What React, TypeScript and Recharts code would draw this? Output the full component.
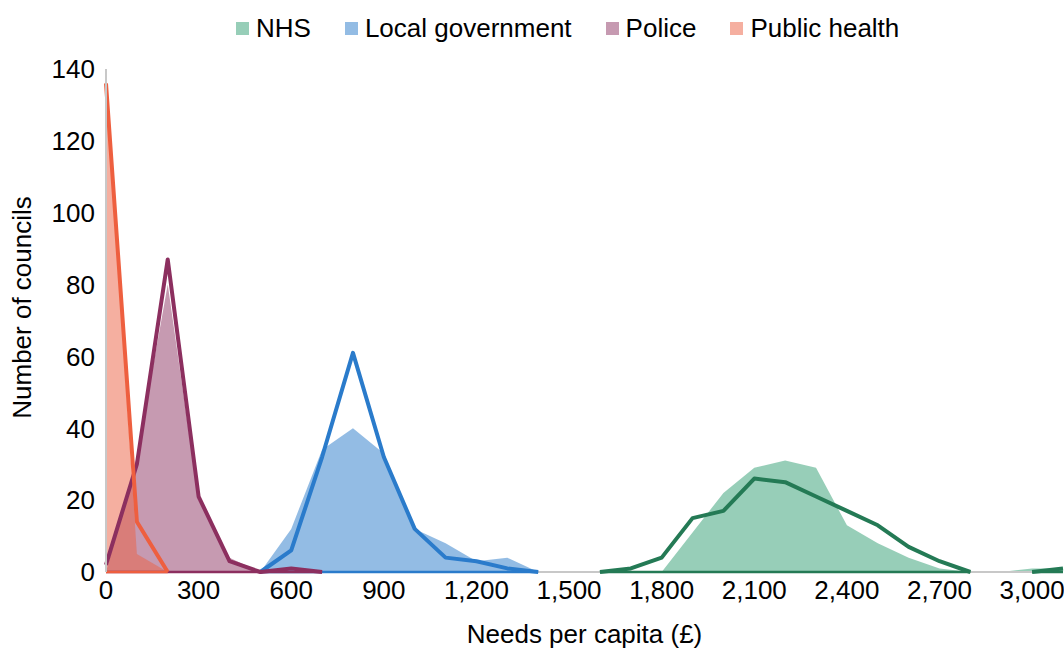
import { ComposedChart, Area, Line, XAxis, YAxis, Legend } from "recharts";

// bins of needs per capita (£), 100 wide
const bins = [
  0, 100, 200, 300, 400, 500, 600, 700, 800, 900, 1000, 1100, 1200, 1300, 1400, 1500,
  1600, 1700, 1800, 1900, 2000, 2100, 2200, 2300, 2400, 2500, 2600, 2700, 2800, 2900, 3000, 3100,
];

const xTicks = [0, 300, 600, 900, 1200, 1500, 1800, 2100, 2400, 2700, 3000];
const yTicks = [0, 20, 40, 60, 80, 100, 120, 140];

// filled areas
const nhsArea = [
  null, null, null, null, null, null, null, null, null, null, null, null, null, null, null, null,
  0, 0, 0, 11, 22, 29, 31, 29, 13, 8, 4, 1, 0, 0, 1, 1,
];
const lgArea = [
  null, null, null, null, null, 0, 12, 34, 40, 33, 12, 8, 3, 4, 0, 0,
  0, null, null, null, null, null, null, null, null, null, null, null, null, null, null, null,
];
const policeArea = [
  0, 32, 80, 20, 4, 0, 0, 0, null, null, null, null, null, null, null, null,
  null, null, null, null, null, null, null, null, null, null, null, null, null, null, null, null,
];
const phArea = [
  138, 5, 0, null, null, null, null, null, null, null, null, null, null, null, null, null,
  null, null, null, null, null, null, null, null, null, null, null, null, null, null, null, null,
];

// outlined series
const nhsLine = [
  null, null, null, null, null, null, null, null, null, null, null, null, null, null, null, null,
  0, 1, 4, 15, 17, 26, 25, 21, 17, 13, 7, 3, 0, null, 0, 1,
];
const lgLine = [
  null, null, null, null, null, 0, 6, 32, 61, 32, 12, 4, 3, 1, 0, null,
  null, null, null, null, null, null, null, null, null, null, null, null, null, null, null, null,
];
const policeLine = [
  2, 30, 87, 21, 3, 0, 1, 0, null, null, null, null, null, null, null, null,
  null, null, null, null, null, null, null, null, null, null, null, null, null, null, null, null,
];
const phLine = [
  136, 14, 0, null, null, null, null, null, null, null, null, null, null, null, null, null,
  null, null, null, null, null, null, null, null, null, null, null, null, null, null, null, null,
];

const seriesNames = ["NHS", "Local government", "Police", "Public health"];
const areaKeys = ["nhsArea", "lgArea", "policeArea", "phArea"];
const lineKeys = ["nhsLine", "lgLine", "policeLine", "phLine"];
const lineColors = ["#247A55", "#2A7BCB", "#8C2F5F", "#EE5F3F"];
const fillColors = ["#2F9D71", "#2779C9", "#8D3563", "#EB5F41"];
const swatchColors = ["#97CEB8", "#93BCE4", "#C69AB1", "#F5AFA0"];

const lineArrays = [nhsLine, lgLine, policeLine, phLine];

const data = bins.map((b, i) => {
  const row: Record<string, number | null> = {
    x: b,
    axis: 0,
    nhsArea: nhsArea[i],
    lgArea: lgArea[i],
    policeArea: policeArea[i],
    phArea: phArea[i],
    nhsLine: nhsLine[i],
    lgLine: lgLine[i],
    policeLine: policeLine[i],
    phLine: phLine[i],
  };
  // closing edge of each outlined shape runs along zero
  lineKeys.forEach((k, j) => {
    row[k + "Base"] = lineArrays[j][i] == null ? null : 0;
  });
  return row;
});

const FONT = "'Liberation Sans', Arial, sans-serif";

function LegendBox() {
  return (
    <div
      style={{
        display: "flex",
        alignItems: "center",
        marginLeft: 236,
        fontFamily: FONT,
        fontSize: 26,
        color: "#000",
        lineHeight: "30px",
      }}
    >
      {seriesNames.map((name, i) => (
        <div key={name} style={{ display: "flex", alignItems: "center", marginRight: 34 }}>
          <span
            style={{ width: 13, height: 13, background: swatchColors[i], marginRight: 7, display: "inline-block" }}
          />
          <span>{name}</span>
        </div>
      ))}
    </div>
  );
}

function YTitle(props: any) {
  const { viewBox } = props;
  const cx = 22;
  const cy = viewBox.y + viewBox.height / 2 - 13;
  return (
    <text
      x={cx}
      y={cy}
      transform={`rotate(-90, ${cx}, ${cy})`}
      textAnchor="middle"
      dominantBaseline="central"
      fontFamily={FONT}
      fontSize={26}
      fill="#000"
    >
      Number of councils
    </text>
  );
}

export default function App() {
  return (
    <div style={{ position: "absolute", left: 0, top: 0, background: "#fff" }}>
      <ComposedChart width={1064} height={653} data={data} margin={{ top: 69, right: 1, bottom: 0, left: 0 }}>
        <XAxis
          dataKey="x"
          type="number"
          domain={[0, 3100]}
          ticks={xTicks}
          tickFormatter={(v: number) => v.toLocaleString("en-US")}
          tick={{ fontSize: 26, fill: "#000", fontFamily: FONT }}
          tickLine={false}
          tickSize={0}
          tickMargin={9}
          axisLine={false}
          height={81}
          label={{
            value: "Needs per capita (£)",
            position: "insideBottom",
            offset: 10,
            fontSize: 26,
            fill: "#000",
            fontFamily: FONT,
          }}
        />
        <YAxis
          type="number"
          domain={[0, 140]}
          ticks={yTicks}
          tick={{ fontSize: 26, fill: "#000", fontFamily: FONT }}
          tickLine={false}
          tickSize={0}
          tickMargin={11}
          axisLine={{ stroke: "#C8C8C8", strokeWidth: 2 }}
          width={106}
          label={<YTitle />}
        />
        <Legend
          verticalAlign="middle"
          align="center"
          layout="horizontal"
          wrapperStyle={{ top: 13, left: 0, width: 1064 }}
          content={() => <LegendBox />}
        />
        {/* horizontal axis line, kept beneath the coloured edges */}
        <Line
          dataKey="axis"
          type="linear"
          stroke="#C8C8C8"
          strokeWidth={2}
          dot={false}
          activeDot={false}
          legendType="none"
          isAnimationActive={false}
        />
        {areaKeys.map((k, i) => (
          <Area
            key={k}
            dataKey={k}
            name={seriesNames[i]}
            type="linear"
            stroke="none"
            fill={fillColors[i]}
            fillOpacity={0.5}
            isAnimationActive={false}
            connectNulls={false}
            dot={false}
            activeDot={false}
          />
        ))}
        {lineKeys.map((k, i) => (
          <Line
            key={k + "Base"}
            dataKey={k + "Base"}
            type="linear"
            stroke={lineColors[i]}
            strokeWidth={2.5}
            dot={false}
            activeDot={false}
            legendType="none"
            isAnimationActive={false}
          />
        ))}
        {lineKeys.map((k, i) => (
          <Line
            key={k}
            dataKey={k}
            type="linear"
            stroke={lineColors[i]}
            strokeWidth={4}
            strokeLinejoin="round"
            dot={false}
            activeDot={false}
            legendType="none"
            isAnimationActive={false}
          />
        ))}
      </ComposedChart>
    </div>
  );
}
